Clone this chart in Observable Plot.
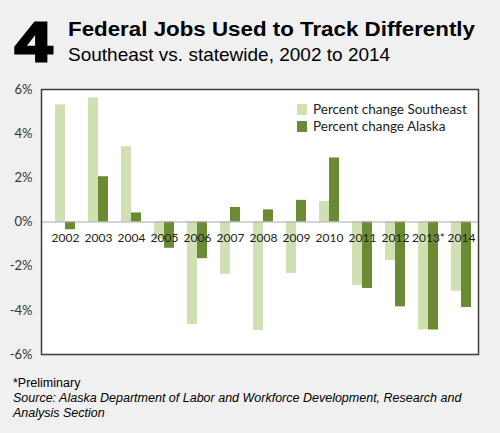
<!DOCTYPE html>
<html>
<head>
<meta charset="utf-8">
<script src="https://cdn.jsdelivr.net/npm/d3@7"></script>
<script src="https://cdn.jsdelivr.net/npm/@observablehq/plot@0.6"></script>
<style>
  html, body { margin: 0; padding: 0; background: #f0f0f0; }
  #wrap { position: relative; width: 500px; height: 433px; background: #f0f0f0; overflow: hidden; font-family: "Liberation Sans", Arial, sans-serif; color: #000; }
  #num { position: absolute; left: 15px; top: 7px; font-size: 56px; font-weight: bold; line-height: 70px; -webkit-text-stroke: 3px #000; transform: scaleX(1.19); transform-origin: left top; }
  #title { position: absolute; left: 68px; top: 18px; font-size: 19.5px; font-weight: bold; line-height: 22px; white-space: nowrap; transform: scaleX(1.145); transform-origin: left top; }
  #subtitle { position: absolute; left: 68px; top: 44px; font-size: 19px; line-height: 22px; white-space: nowrap; }
  #chart { position: absolute; left: 0; top: 80px; }
  #legend { position: absolute; left: 297px; top: 101px; font-family: Lato, sans-serif; font-size: 13.5px; color: #222; }
  #legend div { height: 17px; line-height: 17px; white-space: nowrap; }
  #legend span.sw { display: inline-block; width: 10px; height: 11px; margin-right: 6px; vertical-align: -1px; }
  #foot { position: absolute; left: 13px; top: 375.5px; font-size: 12.5px; line-height: 15px; }
  #foot .src { font-style: italic; }
</style>
</head>
<body>
<div id="wrap">
  <div id="num">4</div>
  <div id="title">Federal Jobs Used to Track Differently</div>
  <div id="subtitle">Southeast vs. statewide, 2002 to 2014</div>
  <div id="chart"></div>
  <div id="legend"></div>
  <div id="foot">
    <div>*Preliminary</div>
    <div class="src">Source: Alaska Department of Labor and Workforce Development, Research and<br>Analysis Section</div>
  </div>
</div>
<script>
const years = ["2002","2003","2004","2005","2006","2007","2008","2009","2010","2011","2012","2013","2014"];
const xLabels = ["2002","2003","2004","2005","2006","2007","2008","2009","2010","2011","2012","2013*","2014"];
const southeast = [5.30, 5.62, 3.41, -0.8, -4.65, -2.37, -4.92, -2.33, 0.93, -2.87, -1.74, -4.89, -3.14];
const alaska = [-0.35, 2.05, 0.41, -1.19, -1.66, 0.66, 0.55, 0.98, 2.90, -3.01, -3.84, -4.89, -3.87];
const yTicks = [-6, -4, -2, 0, 2, 4, 6];
const seriesNames = ["Percent change Southeast", "Percent change Alaska"];

const lightGreen = "#d0e0b2";
const darkGreen = "#6a8a33";

const rows = years.map((y, i) => ({year: y, label: xLabels[i], se: southeast[i], ak: alaska[i], zero: 0}));

const chart = Plot.plot({
  width: 500,
  height: 285,
  marginTop: 9,
  marginBottom: 11,
  marginLeft: 41,
  marginRight: 22,
  style: {background: "transparent", fontFamily: "Lato, sans-serif"},
  x: {domain: years, range: [48.3, 477.3], paddingInner: 0.394, paddingOuter: 0.197, axis: null},
  y: {domain: [-6, 6], axis: null},
  marks: [
    Plot.frame({fill: "white", stroke: null}),
    Plot.barY(rows, {x: "year", y: "se", fill: lightGreen, insetRight: 10}),
    Plot.barY(rows, {x: "year", y: "ak", fill: darkGreen, insetLeft: 10}),
    Plot.ruleY([0], {stroke: "#a8a8a8", strokeWidth: 1}),
    Plot.text(rows, {x: "year", y: "zero", text: "label", dy: 16, fontSize: 12, fill: "#222"}),
    Plot.axisY({ticks: yTicks, tickFormat: d => `${d}%`, tickSize: 0, tickPadding: 9, fontSize: 13, color: "#333", label: null}),
    Plot.frame({stroke: "#3c3c3c", strokeWidth: 1.5})
  ]
});
document.getElementById("chart").appendChild(chart);

const legend = document.getElementById("legend");
[lightGreen, darkGreen].forEach((c, i) => {
  const d = document.createElement("div");
  d.innerHTML = `<span class="sw" style="background:${c}"></span>${seriesNames[i]}`;
  legend.appendChild(d);
});
</script>
</body>
</html>
